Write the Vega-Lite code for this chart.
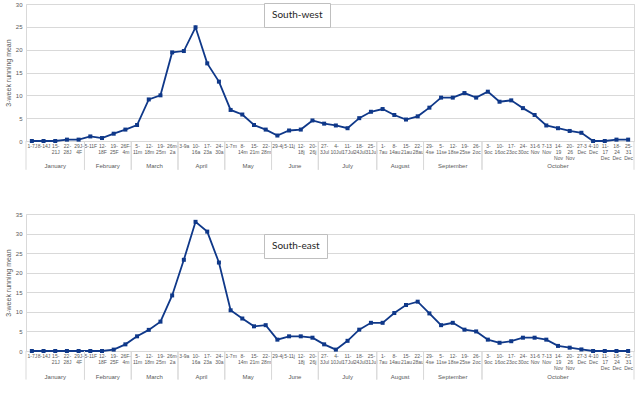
{
  "$schema": "https://vega.github.io/schema/vega-lite/v6.json",
  "background": "white",
  "padding": {"left": 3, "top": 0, "right": 5, "bottom": 5},
  "spacing": 39,
  "datasets": {
    "weeks": [
      {"week": "1-7J", "sw": 0, "se": 0},
      {"week": "8-14J", "sw": 0, "se": 0},
      {"week": "15-|21J", "sw": 0, "se": 0},
      {"week": "22-|28J", "sw": 0.3, "se": 0},
      {"week": "29J-|4F", "sw": 0.3, "se": 0},
      {"week": "5-11F", "sw": 1.0, "se": 0},
      {"week": "12-|18F", "sw": 0.65, "se": 0},
      {"week": "19-|25F", "sw": 1.6, "se": 0.35},
      {"week": "26F-|4m", "sw": 2.5, "se": 1.7},
      {"week": "5-|11m", "sw": 3.5, "se": 3.75},
      {"week": "12-|18m", "sw": 9.1, "se": 5.4},
      {"week": "19-|25m", "sw": 10.0, "se": 7.5},
      {"week": "26m-|2a", "sw": 19.4, "se": 14.2},
      {"week": "3-9a", "sw": 19.7, "se": 23.3},
      {"week": "10-|16a", "sw": 24.9, "se": 33.0},
      {"week": "17-|23a", "sw": 17.0, "se": 30.5},
      {"week": "24-|30a", "sw": 13.0, "se": 22.6},
      {"week": "1-7m", "sw": 6.8, "se": 10.4},
      {"week": "8-|14m", "sw": 5.8, "se": 8.3},
      {"week": "15-|21m", "sw": 3.5, "se": 6.3},
      {"week": "22-|28m", "sw": 2.5, "se": 6.6},
      {"week": "29-4j", "sw": 1.2, "se": 2.9},
      {"week": "5-11j", "sw": 2.3, "se": 3.75},
      {"week": "12-|18j", "sw": 2.5, "se": 3.75},
      {"week": "20-|26j", "sw": 4.5, "se": 3.4},
      {"week": "27-|3Jul", "sw": 3.8, "se": 1.7},
      {"week": "4-|10Jul", "sw": 3.4, "se": 0.35},
      {"week": "11-|17Jul", "sw": 2.8, "se": 2.6},
      {"week": "18-|24Jul", "sw": 5.0, "se": 5.45},
      {"week": "25-|31Jul", "sw": 6.4, "se": 7.2},
      {"week": "1-|7au", "sw": 7.0, "se": 7.2},
      {"week": "8-|14au", "sw": 5.7, "se": 9.7},
      {"week": "15-|21au", "sw": 4.7, "se": 11.75},
      {"week": "22-|28au", "sw": 5.4, "se": 12.6},
      {"week": "29-|4se", "sw": 7.3, "se": 9.6},
      {"week": "5-|11se", "sw": 9.5, "se": 6.6},
      {"week": "12-|18se", "sw": 9.5, "se": 7.2},
      {"week": "19-|25se", "sw": 10.5, "se": 5.45},
      {"week": "26-|2oc", "sw": 9.5, "se": 5.0},
      {"week": "3-|9oc", "sw": 10.8, "se": 2.9},
      {"week": "10-|16oc", "sw": 8.6, "se": 2.1},
      {"week": "17-|23oc", "sw": 8.9, "se": 2.5},
      {"week": "24-|30oc", "sw": 7.2, "se": 3.4},
      {"week": "31-6|Nov", "sw": 5.7, "se": 3.4},
      {"week": "7-13|Nov", "sw": 3.4, "se": 2.9},
      {"week": "14-|19|Nov", "sw": 2.8, "se": 1.3},
      {"week": "20-|26|Nov", "sw": 2.2, "se": 0.85},
      {"week": "27-3|Dec", "sw": 1.8, "se": 0.4},
      {"week": "4-10|Dec", "sw": 0, "se": 0},
      {"week": "11-|17|Dec", "sw": 0, "se": 0},
      {"week": "18-|24|Dec", "sw": 0.3, "se": 0},
      {"week": "25-|31|Dec", "sw": 0.3, "se": 0}
    ],
    "months": [
      {"month": "January", "start": 0, "end": 5, "midWeek": 2.5},
      {"month": "February", "start": 5, "end": 9, "midWeek": 7},
      {"month": "March", "start": 9, "end": 13, "midWeek": 11},
      {"month": "April", "start": 13, "end": 17, "midWeek": 15},
      {"month": "May", "start": 17, "end": 21, "midWeek": 19},
      {"month": "June", "start": 21, "end": 25, "midWeek": 23},
      {"month": "July", "start": 25, "end": 30, "midWeek": 27.5},
      {"month": "August", "start": 30, "end": 34, "midWeek": 32},
      {"month": "September", "start": 34, "end": 39, "midWeek": 36.5},
      {"month": "October", "start": 39, "end": 52, "midWeek": 45.5}
    ]
  },
  "vconcat": [
    {
      "width": 608,
      "height": 137,
      "layer": [
        {
          "data": {"name": "weeks"},
          "encoding": {
            "x": {"field": "week", "type": "ordinal", "sort": null, "scale": {"paddingInner": 0, "paddingOuter": 0}},
            "y": {"field": "sw", "type": "quantitative", "scale": {"domain": [0, 30]},
              "axis": {"values": [0, 5, 10, 15, 20, 25, 30], "title": "3-week running mean"}},
            "color": {"datum": "South-west", "scale": {"range": ["#0f3889"]},
              "legend": {"legendX": 238, "legendY": -1}}
          },
          "layer": [
            {"mark": {"type": "line", "strokeWidth": 1.8}},
            {"mark": {"type": "point", "shape": "square", "filled": true, "size": 16, "opacity": 1}}
          ]
        },
        {
          "data": {"name": "months"},
          "layer": [
            {
              "mark": {"type": "rule", "color": "#d9d9d9", "strokeWidth": 1},
              "encoding": {
                "x": {"field": "start", "type": "quantitative", "scale": {"domain": [0, 52], "nice": false}, "axis": null},
                "y": {"datum": 0, "type": "quantitative", "axis": {"values": [0, 5, 10, 15, 20, 25, 30], "title": "3-week running mean"}},
                "y2": {"datum": -6.3}
              }
            },
            {
              "mark": {"type": "rule", "color": "#d9d9d9", "strokeWidth": 1},
              "encoding": {
                "x": {"field": "end", "type": "quantitative", "axis": null},
                "y": {"datum": 0, "type": "quantitative", "axis": {"values": [0, 5, 10, 15, 20, 25, 30], "title": "3-week running mean"}},
                "y2": {"datum": -6.3}
              }
            },
            {
              "mark": {"type": "text", "fontSize": 6, "color": "#595959", "baseline": "middle"},
              "encoding": {
                "x": {"field": "midWeek", "type": "quantitative", "axis": null},
                "y": {"datum": -5.55, "type": "quantitative", "axis": {"values": [0, 5, 10, 15, 20, 25, 30], "title": "3-week running mean"}},
                "text": {"field": "month"}
              }
            }
          ]
        }
      ],
      "resolve": {"scale": {"x": "independent"}}
    },
    {
      "width": 608,
      "height": 137,
      "layer": [
        {
          "data": {"name": "weeks"},
          "encoding": {
            "x": {"field": "week", "type": "ordinal", "sort": null, "scale": {"paddingInner": 0, "paddingOuter": 0}},
            "y": {"field": "se", "type": "quantitative", "scale": {"domain": [0, 35]},
              "axis": {"values": [0, 5, 10, 15, 20, 25, 30, 35], "title": "3-week running mean"}},
            "color": {"datum": "South-east", "scale": {"range": ["#0f3889"]},
              "legend": {"legendX": 238, "legendY": 20}}
          },
          "layer": [
            {"mark": {"type": "line", "strokeWidth": 1.8}},
            {"mark": {"type": "point", "shape": "square", "filled": true, "size": 16, "opacity": 1}}
          ]
        },
        {
          "data": {"name": "months"},
          "layer": [
            {
              "mark": {"type": "rule", "color": "#d9d9d9", "strokeWidth": 1},
              "encoding": {
                "x": {"field": "start", "type": "quantitative", "scale": {"domain": [0, 52], "nice": false}, "axis": null},
                "y": {"datum": 0, "type": "quantitative", "axis": {"values": [0, 5, 10, 15, 20, 25, 30, 35], "title": "3-week running mean"}},
                "y2": {"datum": -7.3}
              }
            },
            {
              "mark": {"type": "rule", "color": "#d9d9d9", "strokeWidth": 1},
              "encoding": {
                "x": {"field": "end", "type": "quantitative", "axis": null},
                "y": {"datum": 0, "type": "quantitative", "axis": {"values": [0, 5, 10, 15, 20, 25, 30, 35], "title": "3-week running mean"}},
                "y2": {"datum": -7.3}
              }
            },
            {
              "mark": {"type": "text", "fontSize": 6, "color": "#595959", "baseline": "middle"},
              "encoding": {
                "x": {"field": "midWeek", "type": "quantitative", "axis": null},
                "y": {"datum": -6.65, "type": "quantitative", "axis": {"values": [0, 5, 10, 15, 20, 25, 30, 35], "title": "3-week running mean"}},
                "text": {"field": "month"}
              }
            }
          ]
        }
      ],
      "resolve": {"scale": {"x": "independent"}}
    }
  ],
  "resolve": {"scale": {"x": "independent", "y": "independent", "color": "independent"}},
  "config": {
    "font": "Liberation Sans",
    "view": {"stroke": "#d9d9d9"},
    "axisX": {
      "title": null,
      "labelExpr": "split(datum.label, '|')",
      "labelAngle": 0,
      "labelFontSize": 5,
      "labelLineHeight": 6.3,
      "labelColor": "#595959",
      "labelPadding": 2,
      "labelBaseline": "top",
      "labelOverlap": false,
      "labelBound": false,
      "labelFlush": false,
      "ticks": false,
      "domainColor": "#d9d9d9",
      "grid": false
    },
    "axisY": {
      "titleFontSize": 7,
      "titleFontWeight": "normal",
      "titleColor": "#595959",
      "titlePadding": 4,
      "labelFontSize": 6,
      "labelColor": "#595959",
      "labelPadding": 4,
      "labelOverlap": false,
      "ticks": false,
      "domain": false,
      "gridColor": "#d9d9d9"
    },
    "legend": {
      "title": null,
      "orient": "none",
      "fillColor": "white",
      "strokeColor": "#bfbfbf",
      "padding": 7,
      "labelFont": "Lato",
      "labelFontSize": 10,
      "labelColor": "#262626",
      "labelOffset": -9,
      "symbolSize": 0,
      "symbolOpacity": 0,
      "symbolStrokeWidth": 0
    }
  }
}
